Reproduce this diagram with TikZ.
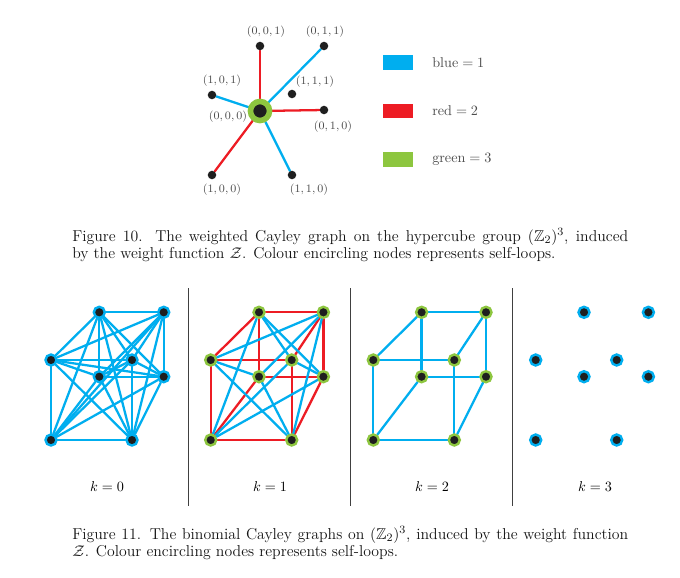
\documentclass[tikz,border=0pt]{standalone}
\usepackage{amsmath,amssymb}
\usepackage{fontspec}
\usetikzlibrary{backgrounds}
\definecolor{cblue}{RGB}{0,174,239}
\definecolor{cred}{RGB}{237,28,36}
\definecolor{cgreen}{RGB}{141,198,63}
\begin{document}
\begin{tikzpicture}[x=0.7042pt,y=-0.7042pt,
  smalldot/.style={circle,fill=black!88,inner sep=0pt,minimum size=6pt},
  ringdot/.style={circle,fill=black!88,draw=#1,line width=1.69pt,inner sep=0pt,minimum size=7.75pt},
  centerdot/.style={circle,fill=black!88,draw=cgreen,line width=3.94pt,inner sep=0pt,minimum size=13.4pt},
  edge/.style={line width=1.6pt,line cap=round},
  lbl/.style={font=\footnotesize,text=black!70,inner sep=0pt},
  legbox/.style={inner sep=0pt,minimum width=21.1pt,minimum height=9.9pt},
  legtext/.style={anchor=west,inner sep=0pt,text=black!70},
  divider/.style={line width=0.8pt,draw=black!75},
  klabel/.style={anchor=base,inner sep=0pt},
  caption/.style={anchor=base west,inner sep=0pt,text=black!92}]
\useasboundingbox (0,0) rectangle (680,577);

% ---------- Figure 10: star graph ----------
\node[centerdot] (c000) at (260,111) {};
\node[smalldot] (n001) at (260,46) {};
\node[smalldot] (n011) at (324,46) {};
\node[smalldot] (n101) at (212,95) {};
\node[smalldot] (n111) at (292,94) {};
\node[smalldot] (n010) at (324,110) {};
\node[smalldot] (n100) at (212,175) {};
\node[smalldot] (n110) at (292,175) {};

\node[lbl] (l001) at (266,32) {$(0,0,1)$};
\node[lbl] (l011) at (325,32) {$(0,1,1)$};
\node[lbl] (l101) at (222,81) {$(1,0,1)$};
\node[lbl] (l111) at (315,82) {$(1,1,1)$};
\node[lbl] (l000) at (228,117) {$(0,0,0)$};
\node[lbl] (l010) at (333,127) {$(0,1,0)$};
\node[lbl] (l100) at (222,190) {$(1,0,0)$};
\node[lbl] (l110) at (309,190) {$(1,1,0)$};

% legend
\node[legbox,fill=cblue] (lb1) at (398,62.5) {};
\node[legbox,fill=cred] (lb2) at (398,111) {};
\node[legbox,fill=cgreen] (lb3) at (398,159.5) {};
\node[legtext] (lt1) at (432,63) {$\text{blue}=1$};
\node[legtext] (lt2) at (432,111) {$\text{red}=2$};
\node[legtext] (lt3) at (432,159) {$\text{green}=3$};

\node[caption] (cap10) at (72,241) {\parbox[t]{391.5pt}{\fontsize{11.1}{12.4}\selectfont Figure 10. The weighted Cayley graph on the hypercube group $(\mathbb{Z}_2)^3$, induced\linebreak by the weight function $\mathcal{Z}$. Colour encircling nodes represents self-loops.}};

% ---------- Figure 11: four cubes ----------
\foreach \p/\bx/\rc in {1/51/cblue,2/210.7/cgreen,3/373.3/cgreen,4/535.7/cblue}{
  \foreach \v/\dx/\dy in {000/0/47.7,100/81/47.7,010/0/127.7,110/81/127.7,001/48.3/0,101/112.7/0,011/48.3/64.4,111/112.7/64.4}{
    \node[ringdot=\rc] (p\p v\v) at (\bx+\dx,312.3+\dy) {};
  }
}

\coordinate (d1t) at (188.5,288); \coordinate (d1b) at (188.5,506);
\coordinate (d2t) at (350.5,288); \coordinate (d2b) at (350.5,506);
\coordinate (d3t) at (512.5,288); \coordinate (d3b) at (512.5,506);
\draw[divider] (d1t) -- (d1b);
\draw[divider] (d2t) -- (d2b);
\draw[divider] (d3t) -- (d3b);

\node[klabel] (k0) at (107,491) {$k=0$};
\node[klabel] (k1) at (270,491) {$k=1$};
\node[klabel] (k2) at (432,491) {$k=2$};
\node[klabel] (k3) at (595,491) {$k=3$};

\node[caption] (cap11) at (72,539) {\parbox[t]{391.5pt}{\fontsize{11.1}{12.4}\selectfont Figure 11. The binomial Cayley graphs on $(\mathbb{Z}_2)^3$, induced by the weight function\linebreak $\mathcal{Z}$. Colour encircling nodes represents self-loops.}};

% ---------- edges behind nodes ----------
\begin{scope}[on background layer]
  \fill[white] (0,0) rectangle (680,577);
  % star graph
  \draw[edge,cred] (c000) -- (n001);
  \draw[edge,cred] (c000) -- (n010);
  \draw[edge,cred] (c000) -- (n100);
  \draw[edge,cblue] (c000) -- (n011);
  \draw[edge,cblue] (c000) -- (n101);
  \draw[edge,cblue] (c000) -- (n110);
  % cube edges (distance 1)
  \foreach \u/\w in {000/100,000/010,000/001,100/110,100/101,010/110,010/011,001/101,001/011,110/111,101/111,011/111}{
    \draw[edge,cblue] (p1v\u) -- (p1v\w);
    \draw[edge,cred] (p2v\u) -- (p2v\w);
    \draw[edge,cblue] (p3v\u) -- (p3v\w);
  }
  % face diagonals (distance 2)
  \foreach \u/\w in {000/110,000/101,000/011,100/010,100/001,100/111,010/001,010/111,110/101,110/011,001/111,101/011}{
    \draw[edge,cblue] (p1v\u) -- (p1v\w);
    \draw[edge,cblue] (p2v\u) -- (p2v\w);
  }
  % body diagonals (distance 3)
  \foreach \u/\w in {000/111,100/011,010/101,110/001}{
    \draw[edge,cblue] (p1v\u) -- (p1v\w);
  }
\end{scope}
\end{tikzpicture}
\end{document}
